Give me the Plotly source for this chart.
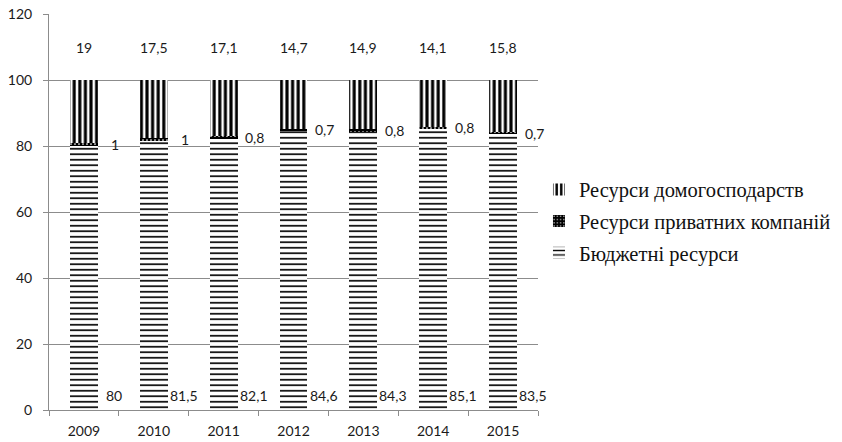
import plotly.graph_objects as go

years = ["2009", "2010", "2011", "2012", "2013", "2014", "2015"]
budget = [80, 81.5, 82.1, 84.6, 84.3, 85.1, 83.5]
private = [1, 1, 0.8, 0.7, 0.8, 0.8, 0.7]
households = [19, 17.5, 17.1, 14.7, 14.9, 14.1, 15.8]

names = ["Бюджетні ресурси", "Ресурси приватних компаній", "Ресурси домогосподарств"]
y_ticks = [0, 20, 40, 60, 80, 100, 120]


def fmt(v):
    return f"{v:g}".replace(".", ",")


TICK_FONT = dict(family="Lato", size=14, color="#1a1a1a")
LEGEND_FONT = dict(family="Liberation Serif", size=20.5, color="#111")
GRID = "#8c8c8c"

fig = go.Figure()

fig.add_trace(go.Bar(
    x=years, y=budget, name=names[0], legendgroup="b", legendrank=3,
    width=0.4,
    marker=dict(color="white", line=dict(width=0),
                pattern=dict(shape="-", fgcolor="black", bgcolor="white",
                             size=5.5, solidity=0.3, fillmode="replace")),
))
fig.add_trace(go.Bar(
    x=years, y=private, name=names[1], legendgroup="p", legendrank=2,
    width=0.4,
    marker=dict(color="black", line=dict(width=0),
                pattern=dict(shape=".", fgcolor="white", bgcolor="black",
                             size=4, solidity=0.15, fillmode="replace")),
))
fig.add_trace(go.Bar(
    x=years, y=households, name=names[2], legendgroup="h", legendrank=1,
    width=0.4,
    marker=dict(color="white", line=dict(width=0),
                pattern=dict(shape="|", fgcolor="black", bgcolor="white",
                             size=5.6, solidity=0.55, fillmode="replace")),
))

annotations = []
for i in range(len(years)):
    # budget share, written beside the base of the bar
    annotations.append(dict(x=i, y=0, xref="x", yref="y", text=fmt(budget[i]),
                            showarrow=False, xshift=30, yshift=15,
                            font=TICK_FONT))
    # private companies share, beside its thin segment
    annotations.append(dict(x=i, y=budget[i] + private[i] / 2, xref="x", yref="y",
                            text=fmt(private[i]), showarrow=False, xshift=31,
                            font=TICK_FONT))
    # households share, above the bar
    annotations.append(dict(x=i, y=110, xref="x", yref="y", text=fmt(households[i]),
                            showarrow=False, font=TICK_FONT))

fig.update_layout(
    width=842, height=442,
    margin=dict(l=49, r=304, t=14, b=32, autoexpand=False),
    paper_bgcolor="white", plot_bgcolor="white",
    barmode="stack",
    bargap=0.6,
    showlegend=True,
    legend=dict(
        x=1.002, y=0.607, xanchor="left", yanchor="top",
        traceorder="grouped", tracegroupgap=2,
        font=LEGEND_FONT,
        bgcolor="rgba(0,0,0,0)",
    ),
    xaxis=dict(
        type="category", range=[-0.5, len(years) - 0.5], automargin=False,
        showline=True, linecolor=GRID, linewidth=1,
        ticks="outside", tickson="boundaries", ticklen=5, tickcolor=GRID,
        ticklabelstandoff=8,
        tickfont=TICK_FONT, showgrid=False,
    ),
    yaxis=dict(
        range=[0, 120], tickvals=y_ticks, automargin=False,
        showline=True, linecolor=GRID,
        linewidth=1, ticks="outside", ticklen=5, tickcolor=GRID,
        ticklabelstandoff=8,
        showgrid=True, gridcolor=GRID, gridwidth=1, zeroline=False,
        tickfont=TICK_FONT,
    ),
    annotations=annotations,
)

fig.write_html("out.html")
